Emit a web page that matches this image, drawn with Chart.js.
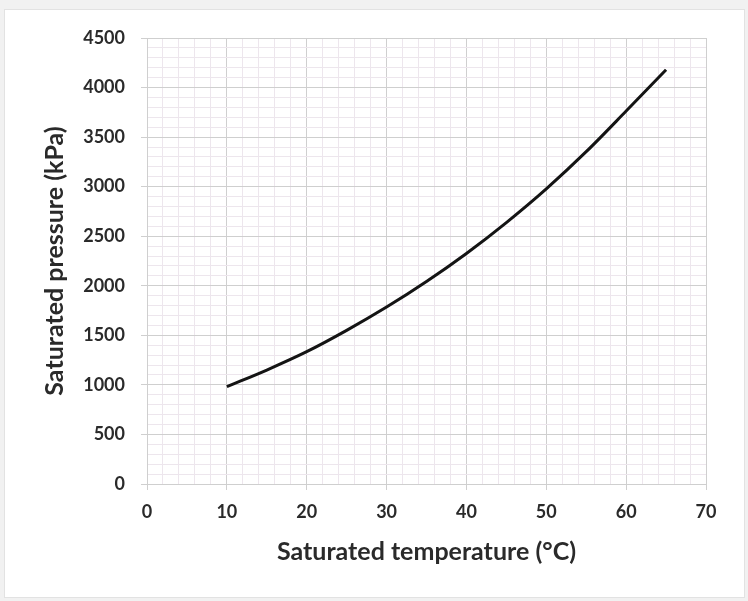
<!DOCTYPE html>
<html>
<head>
<meta charset="utf-8">
<script src="https://cdn.jsdelivr.net/npm/chart.js@4"></script>
<style>
html,body{margin:0;padding:0;background:#f1f1f1;}
#wrap{position:absolute;left:4px;top:9px;width:741px;height:589px;background:#fff;border:1px solid #e2e2e2;box-sizing:border-box;}
canvas{position:absolute;left:0;top:0;}
</style>
</head>
<body>
<div id="wrap"></div>
<canvas id="c" width="748" height="601"></canvas>
<script>
const temperatures = [10, 15, 20, 25, 30, 35, 40, 45, 50, 55, 60, 65];
const pressures = [982, 1150, 1335, 1550, 1785, 2043, 2326, 2638, 2978, 3353, 3763, 4180];
const xTitle = 'Saturated temperature (°C)';
const yTitle = 'Saturated pressure (kPa)';

const fontFam = 'Lato, "Open Sans", sans-serif';
const majorGrid = '#cfcfcf';
const minorGrid = '#ede6ed';
const textCol = '#2a2a2a';

new Chart(document.getElementById('c'), {
  type: 'line',
  data: {
    datasets: [{
      data: temperatures.map((t, i) => ({x: t, y: pressures[i]})),
      borderColor: '#141414',
      borderWidth: 3,
      pointRadius: 0,
      cubicInterpolationMode: 'monotone',
      fill: false
    }]
  },
  options: {
    responsive: false,
    animation: false,
    layout: {padding: {left: 0, top: 38, right: 42, bottom: 0}},
    plugins: {legend: {display: false}, tooltip: {enabled: false}},
    scales: {
      x: {
        type: 'linear', min: 0, max: 70,
        afterFit: s => { s.height = 117; },
        border: {color: majorGrid, width: 1},
        grid: {
          color: c => (c.tick && c.tick.value % 10 === 0) ? majorGrid : minorGrid,
          tickColor: c => (c.tick && c.tick.value % 10 === 0) ? majorGrid : 'rgba(0,0,0,0)',
          tickLength: 6, lineWidth: 1
        },
        ticks: {
          stepSize: 2, autoSkip: false, maxRotation: 0, padding: 11,
          color: textCol, font: {family: fontFam, size: 18, weight: 'bold'},
          callback: v => v % 10 === 0 ? v : ''
        },
        title: {display: true, text: xTitle, color: textCol,
          font: {family: fontFam, size: 25, weight: 'bold'}, padding: {bottom: 34}}
      },
      y: {
        type: 'linear', min: 0, max: 4500,
        afterFit: s => { s.width = 147; },
        border: {color: majorGrid, width: 1},
        grid: {
          color: c => (c.tick && c.tick.value % 500 === 0) ? majorGrid : minorGrid,
          tickColor: c => (c.tick && c.tick.value % 500 === 0) ? majorGrid : 'rgba(0,0,0,0)',
          tickLength: 6, lineWidth: 1
        },
        ticks: {
          stepSize: 100, autoSkip: false, padding: 16,
          color: textCol, font: {family: fontFam, size: 18, weight: 'bold'},
          callback: v => v % 500 === 0 ? v : ''
        },
        title: {display: true, text: yTitle, color: textCol,
          font: {family: fontFam, size: 25, weight: 'bold'}, padding: {top: 40}}
      }
    }
  }
});
</script>
</body>
</html>
